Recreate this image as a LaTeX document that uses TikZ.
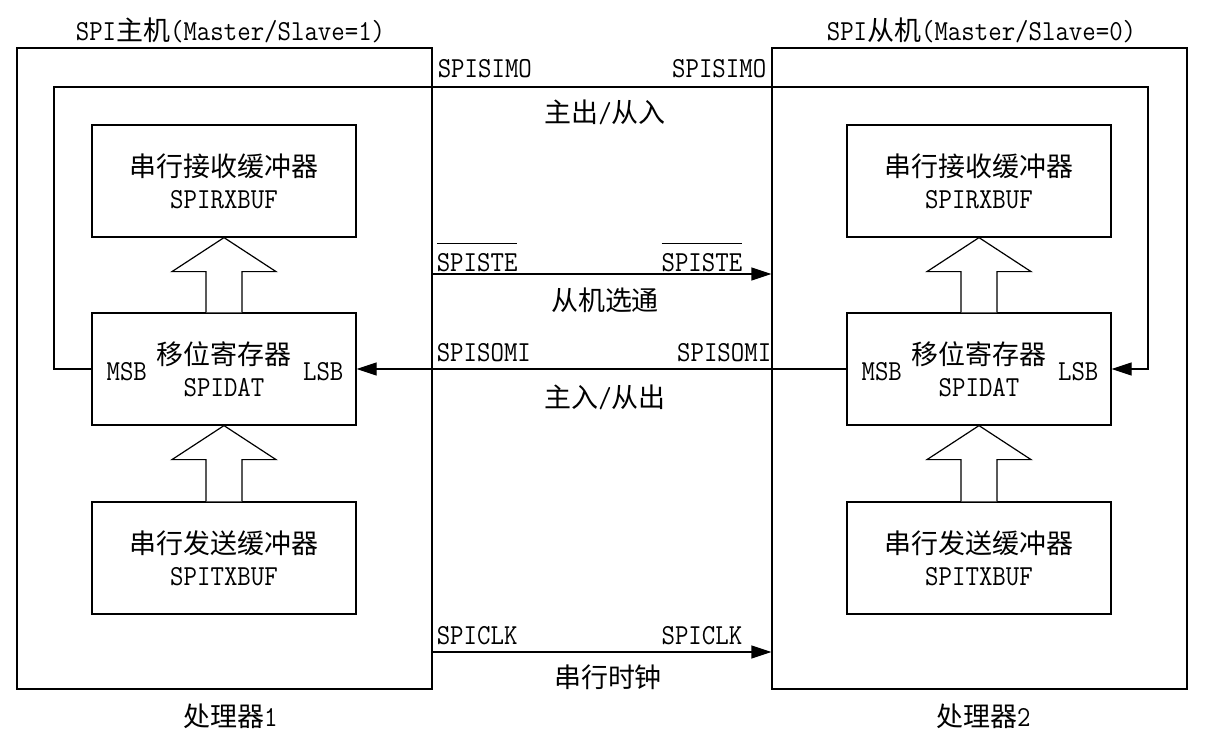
\documentclass[tikz,border=0pt]{standalone}
\usepackage{fontspec}
\setmonofont[FakeStretch=0.9]{Latin Modern Mono}
\newfontfamily\cjk[Scale=0.93]{Noto Sans CJK SC}
\usetikzlibrary{arrows.meta, positioning, calc}

% hollow block arrow from the top of #1 up to the bottom of #2
\newcommand{\hollowup}[2]{%
  \draw[hollow] ($(#1.north)+(-18,0)$) -- ($(#2.south)+(-18,34)$) -- ($(#2.south)+(-52,34)$)
    -- (#2.south) -- ($(#2.south)+(52,34)$) -- ($(#2.south)+(18,34)$) -- ($(#1.north)+(18,0)$);}
% bar over a signal name (active low)
\newcommand{\lowact}[1]{\vbox{\hrule height 1pt\kern 9pt\hbox{#1}}}

\begin{document}
\begin{tikzpicture}[x=1pt, y=-1pt,
    font=\fontsize{29}{32}\selectfont\ttfamily,
    proc/.style={draw, line width=1.2pt, minimum width=415pt, minimum height=641pt, inner sep=0pt},
    box/.style={draw, line width=1.2pt, minimum width=264pt, minimum height=112pt,
                align=center, inner sep=0pt},
    lbl/.style={inner sep=0pt},
    sig/.style={line width=1.2pt},
    arrow/.style={sig, -{Triangle[length=20pt, width=13pt]}},
    hollow/.style={line width=1.2pt, fill=white, line join=miter},
]
\useasboundingbox (0,0) rectangle (1209,736);

% processors
\node[proc] (p1) at (224.5,368.5) {};
\node[proc] (p2) at (979.5,368.5) {};
\node (t1) at ($(p1.north)+(6,-17)$) {SPI{\cjk 主机}(Master/Slave=1)};
\node (t2) at ($(p2.north)+(2,-17)$) {SPI{\cjk 从机}(Master/Slave=0)};
\node (n1) at ($(p1.south)+(6,27)$) {{\cjk 处理器}1};
\node (n2) at ($(p2.south)+(4,27)$) {{\cjk 处理器}2};

% master side
\node[box] (rx1) at (224,181) {{\cjk 串行接收缓冲器}\\SPIRXBUF};
\node[box] (sr1) at (224,369) {{\cjk 移位寄存器}\\SPIDAT};
\node[box] (tx1) at (224,558) {{\cjk 串行发送缓冲器}\\SPITXBUF};
\node[lbl, anchor=west] (msb1) at ($(sr1.west)+(15,3)$) {MSB};
\node[lbl, anchor=east] (lsb1) at ($(sr1.east)+(-13,3)$) {LSB};

% slave side
\node[box] (rx2) at (979,181) {{\cjk 串行接收缓冲器}\\SPIRXBUF};
\node[box] (sr2) at (979,369) {{\cjk 移位寄存器}\\SPIDAT};
\node[box] (tx2) at (979,558) {{\cjk 串行发送缓冲器}\\SPITXBUF};
\node[lbl, anchor=west] (msb2) at ($(sr2.west)+(15,3)$) {MSB};
\node[lbl, anchor=east] (lsb2) at ($(sr2.east)+(-13,3)$) {LSB};

\hollowup{sr1}{rx1};
\hollowup{tx1}{sr1};
\hollowup{sr2}{rx2};
\hollowup{tx2}{sr2};

% SPISIMO loop
\coordinate (loopL) at (54,87);
\coordinate (loopR) at (1148,87);
\draw[arrow] (sr1.west) -| (loopL) -- (loopR) |- (sr2.east);
\coordinate (simoA) at (p1.east |- loopL);
\coordinate (simoB) at (p2.west |- loopL);
\node[lbl, above right=9pt and 5pt of simoA] (simoL) {SPISIMO};
\node[lbl, above left=9pt and 5pt of simoB] (simoR) {SPISIMO};
\node[lbl] (simoT) at ($(simoA)!0.5!(simoB)+(3,25)$) {{\cjk 主出}/{\cjk 从入}};

% SPISTE
\coordinate (steY) at (0,274);
\draw[arrow] (p1.east |- steY) coordinate (steA) -- (p2.west |- steY) coordinate (steB);
\node[lbl, above right=2pt and 4pt of steA] (steL) {\lowact{SPISTE}};
\node[lbl, above left=2pt and 29pt of steB] (steR) {\lowact{SPISTE}};
\node[lbl] (steT) at ($(steA)!0.5!(steB)+(3,26)$) {\cjk 从机选通};

% SPISOMI
\draw[arrow] (sr2.west) -- (sr1.east);
\coordinate (somiA) at (p1.east |- sr1.east);
\coordinate (somiB) at (p2.west |- sr2.west);
\node[lbl, above right=7pt and 4pt of somiA] (somiL) {SPISOMI};
\node[lbl, above left=7pt and 0pt of somiB] (somiR) {SPISOMI};
\node[lbl] (somiT) at ($(somiA)!0.5!(somiB)+(3,28)$) {{\cjk 主入}/{\cjk 从出}};

% SPICLK
\coordinate (clkY) at (0,652);
\draw[arrow] (p1.east |- clkY) coordinate (clkA) -- (p2.west |- clkY) coordinate (clkB);
\node[lbl, above right=7pt and 4pt of clkA] (clkL) {SPICLK};
\node[lbl, above left=7pt and 29pt of clkB] (clkR) {SPICLK};
\node[lbl] (clkT) at ($(clkA)!0.5!(clkB)+(6,25)$) {\cjk 串行时钟};
\end{tikzpicture}
\end{document}
